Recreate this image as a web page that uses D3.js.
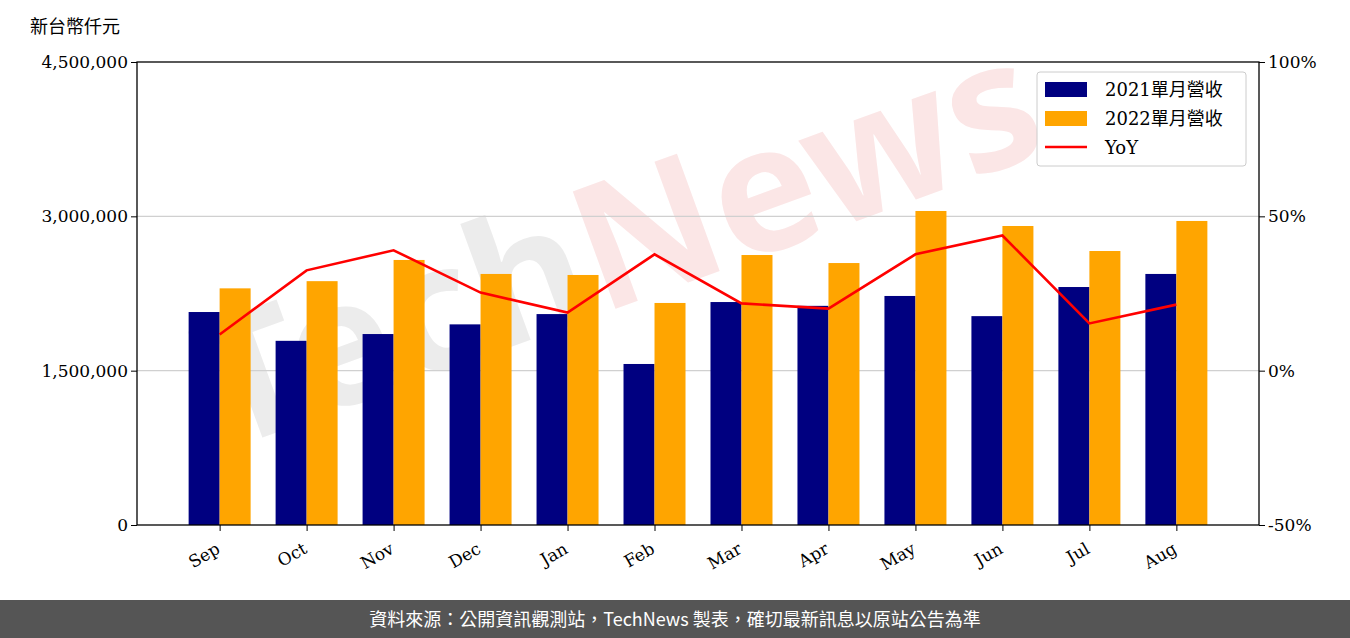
<!DOCTYPE html><html><head><meta charset="utf-8"><script src="https://cdn.jsdelivr.net/npm/d3@7"></script>
<style>body{margin:0;background:#fff}</style></head><body><svg id="c" width="1350" height="638"></svg>
<script>
const months=["Sep","Oct","Nov","Dec","Jan","Feb","Mar","Apr","May","Jun","Jul","Aug"];
const rev2021=[2070000,1790000,1856000,1950000,2050000,1565000,2167000,2130000,2226000,2030000,2313000,2440000];
const rev2022=[2300000,2370000,2576000,2440000,2430000,2158000,2624000,2546000,3052000,2906000,2663000,2955000];
const yoy=[11.7,32.5,39,25.3,18.8,37.7,21.8,20.1,37.7,43.8,15.3,21.4];
const leftTicks=[0,1500000,3000000,4500000];
const rightTicks=[-50,0,50,100];
const svg=d3.select("#c");
const L=137,R=1259,T=62,B=525;
const x=d3.scaleLinear().domain([-0.95,11.95]).range([L,R]);
const y=d3.scaleLinear().domain([0,4500000]).range([B,T]);
const y2=d3.scaleLinear().domain([-50,100]).range([B,T]);
const serif="'DejaVu Serif','Liberation Serif',serif";
const cjk="'Noto Sans CJK TC','Noto Sans CJK SC',sans-serif";
svg.append("text").attr("transform","translate(640,300) rotate(-20)").attr("text-anchor","middle")
 .attr("font-family","Noto Sans").attr("font-weight","bold").attr("font-size",175).attr("fill","#ececec").text("Tech")
 .append("tspan").attr("fill","#fbe6e6").text("News");
svg.selectAll(".g").data([1500000,3000000]).enter().append("line").attr("x1",L).attr("x2",R).attr("y1",d=>y(d)).attr("y2",d=>y(d)).attr("stroke","#d0d0d0").attr("stroke-width",1.3);
const bw=31;
svg.selectAll(".b1").data(rev2021).enter().append("rect").attr("x",(d,i)=>x(i)-bw).attr("width",bw).attr("y",d=>y(d)).attr("height",d=>B-y(d)).attr("fill","#000080");
svg.selectAll(".b2").data(rev2022).enter().append("rect").attr("x",(d,i)=>x(i)).attr("width",bw).attr("y",d=>y(d)).attr("height",d=>B-y(d)).attr("fill","#ffa500");
svg.append("path").datum(yoy).attr("d",d3.line().x((d,i)=>x(i)).y(d=>y2(d))).attr("fill","none").attr("stroke","#ff0000").attr("stroke-width",2.6);
svg.append("rect").attr("x",L).attr("y",T).attr("width",R-L).attr("height",B-T).attr("fill","none").attr("stroke","#000").attr("stroke-width",1.3);
const ax=svg.append("g").attr("transform",`translate(${L},0)`).call(d3.axisLeft(y).tickValues(leftTicks).tickFormat(d3.format(",")).tickSize(6));
const ax2=svg.append("g").attr("transform",`translate(${R},0)`).call(d3.axisRight(y2).tickValues(rightTicks).tickFormat(d=>d+"%").tickSize(6));
const xa=svg.append("g").attr("transform",`translate(0,${B})`).call(d3.axisBottom(x).tickValues(d3.range(12)).tickFormat(i=>months[i]).tickSize(6));
[ax,ax2,xa].forEach(g=>{g.select(".domain").remove();g.selectAll("text").attr("font-family",serif).attr("font-size",17).attr("fill","#000");});
xa.selectAll("text").attr("text-anchor","end").attr("dy","0.35em").attr("y",0).attr("transform","translate(-2,22) rotate(-30)");
svg.append("text").attr("x",30).attr("y",33).attr("font-family",cjk).attr("font-size",18).text("新台幣仟元");
const lg=svg.append("g");
lg.append("rect").attr("x",1037).attr("y",72).attr("width",209).attr("height",94).attr("rx",3).attr("fill","#fff").attr("fill-opacity",0.8).attr("stroke","#ccc");
const items=[["2021單月營收","#000080","r"],["2022單月營收","#ffa500","r"],["YoY","#ff0000","l"]];
items.forEach((it,i)=>{const cy=89+i*29;
 if(it[2]=="r")lg.append("rect").attr("x",1045).attr("y",cy-7).attr("width",42).attr("height",15).attr("fill",it[1]);
 else lg.append("line").attr("x1",1045).attr("x2",1087).attr("y1",cy).attr("y2",cy).attr("stroke",it[1]).attr("stroke-width",2.6);
 lg.append("text").attr("x",1105).attr("y",cy+7).attr("font-family",serif+","+cjk).attr("font-size",18).text(it[0]);});
svg.append("rect").attr("x",0).attr("y",600).attr("width",1350).attr("height",38).attr("fill","#555");
svg.append("text").attr("x",675).attr("y",626).attr("text-anchor","middle").attr("font-family",cjk).attr("font-size",18).attr("fill","#fff").text("資料來源：公開資訊觀測站，TechNews 製表，確切最新訊息以原站公告為準");
</script></body></html>
